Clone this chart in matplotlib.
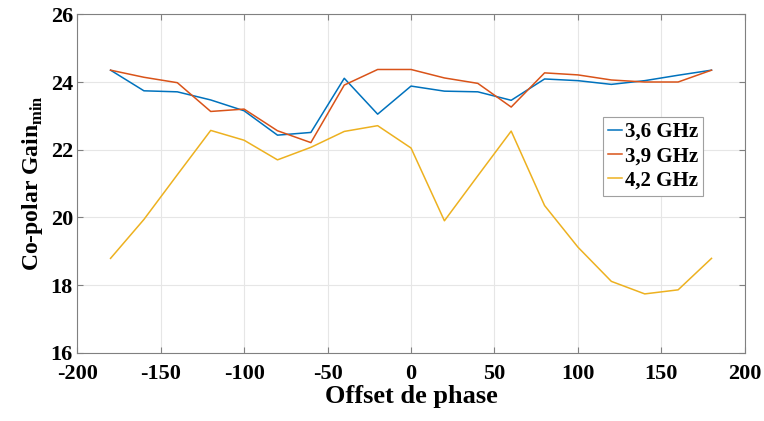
import numpy as np
import matplotlib.pyplot as plt

plt.rcParams['font.family'] = ['Liberation Serif']
plt.rcParams['font.weight'] = 'bold'
plt.rcParams['axes.labelweight'] = 'bold'
plt.rcParams['axes.unicode_minus'] = False
plt.rcParams['mathtext.fontset'] = 'custom'
plt.rcParams['mathtext.rm'] = 'Liberation Serif:bold'
plt.rcParams['mathtext.bf'] = 'Liberation Serif:bold'

# offset de phase (deg)
offset = [-180, -160, -140, -120, -100, -80, -60, -40, -20, 0,
          20, 40, 60, 80, 100, 120, 140, 160, 180]

gain_36 = [24.35, 23.74, 23.71, 23.47, 23.15, 22.43, 22.51, 24.11, 23.05, 23.88,
           23.73, 23.71, 23.46, 24.09, 24.04, 23.93, 24.04, 24.20, 24.35]
gain_39 = [24.35, 24.14, 23.98, 23.13, 23.20, 22.56, 22.21, 23.91, 24.37, 24.37,
           24.12, 23.96, 23.26, 24.27, 24.21, 24.06, 24.00, 24.00, 24.35]
gain_42 = [18.79, 19.94, 21.26, 22.57, 22.28, 21.70, 22.07, 22.54, 22.71, 22.05,
           19.90, 21.23, 22.55, 20.35, 19.12, 18.11, 17.74, 17.86, 18.79]

labels = ['3,6 GHz', '3,9 GHz', '4,2 GHz']
colors = ['#0072BD', '#D95319', '#EDB120']

fig = plt.figure(figsize=(7.64, 4.21), dpi=100)
ax = fig.add_axes([0.101, 0.162, 0.874, 0.804])

for y, lab, c in zip([gain_36, gain_39, gain_42], labels, colors):
    ax.plot(offset, y, color=c, lw=1.1, label=lab)

ax.set_xlim(-200, 200)
ax.set_ylim(16, 26)
ax.set_xticks(np.arange(-200, 201, 50))
ax.set_yticks(np.arange(16, 27, 2))
ax.grid(True, color='#e6e6e6', lw=0.8)
ax.set_axisbelow(True)
ax.tick_params(direction='in', top=True, right=True, labelsize=16,
               color='#808080', length=4)
ax.tick_params(axis='x', pad=8)
ax.tick_params(axis='y', pad=3)
for s in ax.spines.values():
    s.set_color('#808080')
    s.set_linewidth(0.8)

ax.set_xlabel('Offset de phase', fontsize=19, labelpad=1)
ax.set_ylabel(r'Co-polar Gain$_{\mathrm{min}}$', fontsize=17, labelpad=4)

leg = ax.legend(loc='upper left', bbox_to_anchor=(0.787, 0.697),
                prop={'weight': 'bold', 'size': 15},
                handlelength=0.7, handletextpad=0.1, borderpad=0.25,
                labelspacing=0.2, fancybox=False, framealpha=1,
                borderaxespad=0)
leg.get_frame().set_edgecolor('#a0a0a0')
leg.get_frame().set_linewidth(0.8)

fig.savefig('out.png', dpi=100)
